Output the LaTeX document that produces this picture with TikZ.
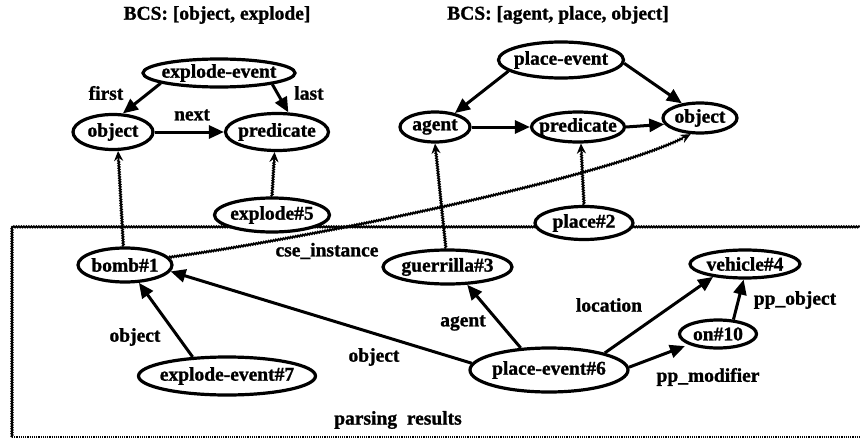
\documentclass[tikz,border=0pt]{standalone}
\usepackage{fontspec}
\setmainfont{Liberation Serif}[BoldFeatures={FakeBold=1.2}]
\usetikzlibrary{shapes.geometric,arrows.meta,decorations.pathmorphing}
\newcommand{\mk}[1]{\makebox[0pt]{#1}}
\begin{document}
\begin{tikzpicture}[x=1pt,y=-1pt,
  font=\fontsize{19.5}{22}\selectfont\bfseries,
  el/.style={ellipse, draw, fill=white, line width=3.2pt, inner sep=0pt},
  sol/.style={line width=3pt, -{Triangle[length=15pt,width=13pt]}},
  dotc/.style={line width=1.7pt, decorate, decoration={snake,amplitude=0.7pt,segment length=2.5pt,post length=8pt}, -{Stealth[length=10pt,width=9pt]}},
  boxline/.style={line width=1.8pt, decorate, decoration={snake,amplitude=0.6pt,segment length=2.5pt}},
  lbl/.style={inner sep=0pt},
]
\useasboundingbox (0,0) rectangle (860,439);

% frame of parsing results
\draw[boxline] (12,437) -- (12,227) -- (862,227);
\draw[line width=1.2pt, densely dotted] (12,437) -- (862,437);

% titles
\node[lbl] (t1) at (217,15) {BCS: [object, explode]};
\node[lbl] (t2) at (558,15) {BCS: [agent, place, object]};

% BCS nodes
\node[el, minimum width=152, minimum height=28] (ee) at (219,73) {\mk{explode-event}};
\node[el, minimum width=80, minimum height=35] (objL) at (113,132) {\mk{object}};
\node[el, minimum width=103, minimum height=37] (predL) at (277,132) {\mk{predicate}};
\node[el, minimum width=115, minimum height=34] (ex5) at (272,215) {\mk{explode\#5}};

\node[el, minimum width=125, minimum height=36] (pe) at (561,60) {\mk{place-event}};
\node[el, minimum width=70, minimum height=30] (agent) at (435,127) {\mk{agent}};
\node[el, minimum width=93, minimum height=30] (predR) at (578,127) {\mk{predicate}};
\node[el, minimum width=74, minimum height=30] (objR) at (700,118) {\mk{object}};
\node[el, minimum width=98, minimum height=33] (place2) at (584,223) {\mk{place\#2}};

% parsing nodes
\node[el, minimum width=94, minimum height=34] (bomb) at (125,265) {\mk{bomb\#1}};
\node[el, minimum width=177, minimum height=38] (ev7) at (227,376) {\mk{explode-event\#7}};
\node[el, minimum width=129, minimum height=34] (guer) at (447.5,267) {\mk{guerrilla\#3}};
\node[el, minimum width=110, minimum height=28] (veh) at (745,264) {\mk{vehicle\#4}};
\node[el, minimum width=77, minimum height=28] (on10) at (718,334) {\mk{on\#10}};
\node[el, minimum width=158, minimum height=44] (pe6) at (549,370) {\mk{place-event\#6}};

% BCS connectors
\draw[sol] (ee.190) -- (objL.62);
\draw[sol] (ee.348) -- (predL.60);
\draw[sol] (objL) -- (predL);
\draw[sol] (pe.192) -- (agent.35);
\draw[sol] (pe.357) -- (objR.141);
\draw[sol] (agent) -- (predR);
\draw[sol] (predR.east) -- (objR.190);

% instance links
\draw[dotc] (bomb.95) -- (objL.-75);
\draw[dotc] (ex5.north) -- (predL.-97);
\draw[dotc] (guer.95) -- (agent.south);
\draw[dotc] (place2.north) -- (predR.-80);
\draw[dotc] (bomb.10) .. controls (300,240) and (620,175) .. (objR.-120);

% parsing connectors
\draw[sol] (ev7.151) -- (bomb.-52);
\draw[sol] (pe6.175) -- (bomb.-8);
\draw[sol] (pe6.142) -- (guer.-42);
\draw[sol] (pe6.17) -- (veh.202);
\draw[sol, shorten >=4pt] (pe6.2) -- (on10.200);
\draw[sol] (on10.43) -- (veh.-95);

% labels
\node[lbl] (lfirst) at (106,93) {first};
\node[lbl] (llast) at (309,93) {last};
\node[lbl] (lnext) at (192,115) {next};
\node[lbl] (lcse) at (327,251) {cse\_instance};
\node[lbl] (lobj1) at (135,337) {object};
\node[lbl] (lobj2) at (374,357) {object};
\node[lbl] (lagent) at (463,323) {agent};
\node[lbl] (lloc) at (609,305) {location};
\node[lbl] (lppo) at (795,300) {pp\_object};
\node[lbl] (lppm) at (708,377) {pp\_modifier};
\node[lbl] (lpars) at (398,420) {parsing\hspace{0.5em}results};
\end{tikzpicture}
\end{document}
